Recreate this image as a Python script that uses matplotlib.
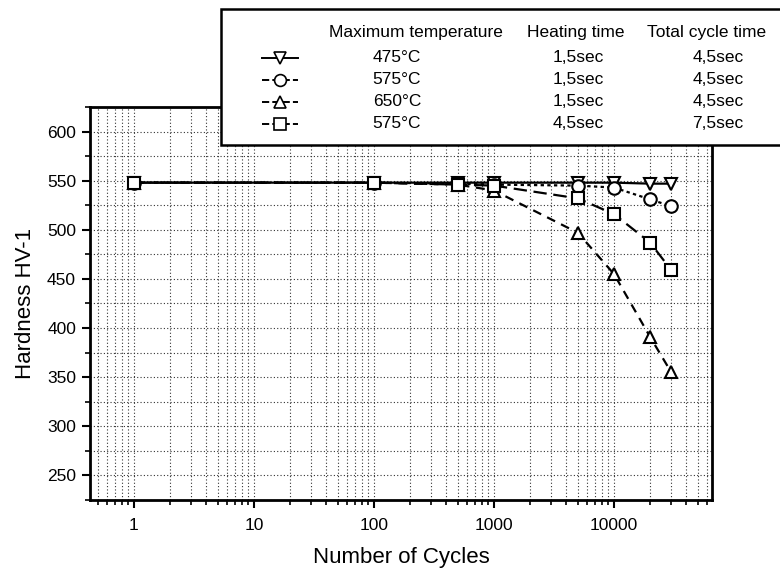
import matplotlib
matplotlib.use("Agg")
import matplotlib.pyplot as plt
from matplotlib.lines import Line2D
from matplotlib.patches import Rectangle
from matplotlib.ticker import LogLocator, FixedLocator, NullFormatter, FuncFormatter

plt.rcParams['font.family'] = ['Liberation Sans', 'DejaVu Sans']

# ---- data ----
cycles = [1, 100, 500, 1000, 5000, 10000, 20000, 30000]
hv_475_15 = [548, 548, 548, 548, 548, 548, 547, 547]
hv_575_15 = [548, 548, 547, 546, 545, 543, 531, 524]
hv_650_15 = [548, 548, 546, 540, 497, 455, 391, 355]
hv_575_45 = [548, 548, 546, 545, 532, 516, 487, 459]

legend_temps = ["475°C", "575°C", "650°C", "575°C"]
legend_heat = ["1,5sec", "1,5sec", "1,5sec", "4,5sec"]
legend_total = ["4,5sec", "4,5sec", "4,5sec", "7,5sec"]
legend_headers = ["Maximum temperature", "Heating time", "Total cycle time"]

x_ticks = [1, 10, 100, 1000, 10000]
y_ticks = [250, 300, 350, 400, 450, 500, 550, 600]

W, H = 780, 570
fig = plt.figure(figsize=(W / 100, H / 100), dpi=100)
ax = fig.add_axes([90 / W, (H - 500) / H, (712 - 90) / W, (500 - 107) / H])

styles = [
    dict(ls='-', marker='v'),
    dict(ls=(0, (1.5, 1.5)), marker='o'),
    dict(ls=(0, (4, 3)), marker='^'),
    dict(ls=(0, (6, 3)), marker='s'),
]
series = [hv_475_15, hv_575_15, hv_650_15, hv_575_45]
handles = []
for ys, st in zip(series, styles):
    ln, = ax.plot(cycles, ys, color='black', lw=1.6, ls=st['ls'], marker=st['marker'],
                  ms=9, mfc='white', mec='black', mew=1.5, zorder=3)
    handles.append(ln)

ax.set_xscale('log')
ax.set_xlim(0.43, 65600)
ax.set_ylim(225, 625)

ax.xaxis.set_major_locator(FixedLocator(x_ticks))
ax.xaxis.set_major_formatter(FuncFormatter(lambda v, p: f"{int(round(v))}"))
ax.xaxis.set_minor_locator(LogLocator(base=10, subs=range(2, 10), numticks=20))
ax.xaxis.set_minor_formatter(NullFormatter())
ax.yaxis.set_major_locator(FixedLocator(y_ticks))
ax.yaxis.set_minor_locator(FixedLocator([v + 25 for v in [200] + y_ticks]))

ax.grid(True, which='both', axis='both', ls=(0, (1, 2)), color='#333333', lw=0.8)
ax.set_axisbelow(True)

for s in ax.spines.values():
    s.set_linewidth(2.0)
ax.tick_params(which='major', direction='out', length=6, width=1.5, labelsize=12.5, pad=4)
ax.tick_params(which='minor', direction='out', length=3.5, width=1.2)
ax.tick_params(axis='x', which='major', pad=7)

ax.set_xlabel("Number of Cycles", fontsize=16, labelpad=10)
ax.set_ylabel("Hardness HV-1", fontsize=16, labelpad=8)

# ---- legend box (table style) ----
def fx(px):
    return px / W

def fy(py):
    return 1 - py / H

box = Rectangle((fx(221), fy(145)), fx(800) - fx(221), fy(9) - fy(145),
                transform=fig.transFigure, facecolor='white', edgecolor='black',
                lw=1.8, zorder=10, clip_on=False)
fig.add_artist(box)

hdr_x = [416, 576, 707]
for hx, t in zip(hdr_x, legend_headers):
    fig.text(fx(hx), fy(33), t, ha='center', va='center', fontsize=12.5, zorder=11)

row_y = [58, 80, 102, 124]
for i, (ry, h) in enumerate(zip(row_y, handles)):
    ln = Line2D([fx(262), fx(298)], [fy(ry), fy(ry)], transform=fig.transFigure,
                color='black', lw=1.4, ls=h.get_linestyle(), zorder=11)
    fig.add_artist(ln)
    mk = Line2D([fx(280)], [fy(ry)], transform=fig.transFigure, marker=styles[i]['marker'],
                ms=8.5, mfc='white', mec='black', mew=1.2, ls='none', zorder=12)
    fig.add_artist(mk)
    fig.text(fx(397), fy(ry), legend_temps[i], ha='center', va='center', fontsize=12.5, zorder=11)
    fig.text(fx(578), fy(ry), legend_heat[i], ha='center', va='center', fontsize=12.5, zorder=11)
    fig.text(fx(718), fy(ry), legend_total[i], ha='center', va='center', fontsize=12.5, zorder=11)

fig.savefig("out.png", dpi=100)
